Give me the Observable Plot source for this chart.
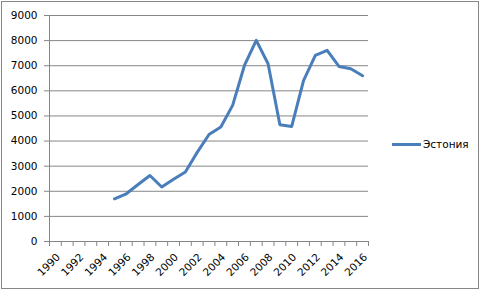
<!DOCTYPE html>
<html><head><meta charset="utf-8">
<script src="https://cdn.jsdelivr.net/npm/d3@7"></script>
<script src="https://cdn.jsdelivr.net/npm/@observablehq/plot@0.6"></script>
<style>
body{margin:0;background:#fff}
#wrap{position:relative;width:483px;height:291px;overflow:hidden;background:#fff}
#border{position:absolute;left:1px;top:1px;width:476px;height:286px;border:1px solid #868686;pointer-events:none;box-sizing:content-box}
#legend{position:absolute;left:392px;top:138px;font:10.5px "DejaVu Sans",sans-serif;color:#000;display:flex;align-items:center;white-space:nowrap}
#legend .sw{display:inline-block;width:29px;height:3px;background:#4A7EBB;margin-right:2px}
</style>
</head><body>
<div id="wrap"><div id="border"></div><div id="legend"><span class="sw"></span><span>Эстония</span></div></div>
<script>
const seriesName = "Эстония";
const years = [1995,1996,1997,1998,1999,2000,2001,2002,2003,2004,2005,2006,2007,2008,2009,2010,2011,2012,2013,2014,2015,2016];
const values = [1700,1900,2270,2630,2170,2480,2770,3550,4260,4560,5420,7010,8010,7080,4650,4580,6410,7410,7610,6970,6880,6600];
const categoryYears = d3.range(1990, 2017);
const labelYears = [1990,1992,1994,1996,1998,2000,2002,2004,2006,2008,2010,2012,2014,2016];
const yTicks = [0,1000,2000,3000,4000,5000,6000,7000,8000,9000];

const data = years.map((year, i) => ({year, value: values[i]}));
const boundaries = d3.range(categoryYears[0] - 0.5, categoryYears[categoryYears.length - 1] + 1, 1);

const chart = Plot.plot({
  width: 483, height: 291,
  marginLeft: 49, marginRight: 115, marginTop: 15, marginBottom: 50,
  style: {fontFamily: "DejaVu Sans, sans-serif", fontSize: "10.5px", color: "#000", background: "transparent", overflow: "visible"},
  x: {type: "linear", domain: [categoryYears[0] - 0.5, categoryYears[categoryYears.length - 1] + 0.5]},
  y: {domain: [0, 9000]},
  marks: [
    Plot.gridY(yTicks, {stroke: "#868686", strokeOpacity: 1}),
    Plot.axisY(yTicks, {tickSize: 5, tickPadding: 7, stroke: "#868686", tickFormat: d => String(d), label: null}),
    Plot.ruleX([categoryYears[0] - 0.5], {stroke: "#868686"}),
    Plot.ruleY([0], {stroke: "#868686"}),
    Plot.axisX(boundaries, {tickSize: 5, stroke: "#868686", tickFormat: () => "", label: null}),
    Plot.axisX(labelYears, {tickSize: 0, tickPadding: 11, rotate: -45, textAnchor: "end", tickFormat: d => String(d), label: null}),
    Plot.line(data, {x: "year", y: "value", stroke: "#4A7EBB", strokeWidth: 3, strokeLinejoin: "round", strokeLinecap: "round"})
  ]
});
document.getElementById("wrap").prepend(chart);
chart.style.position = "absolute";
chart.style.left = "0px";
chart.style.top = "0px";
</script>
</body></html>
